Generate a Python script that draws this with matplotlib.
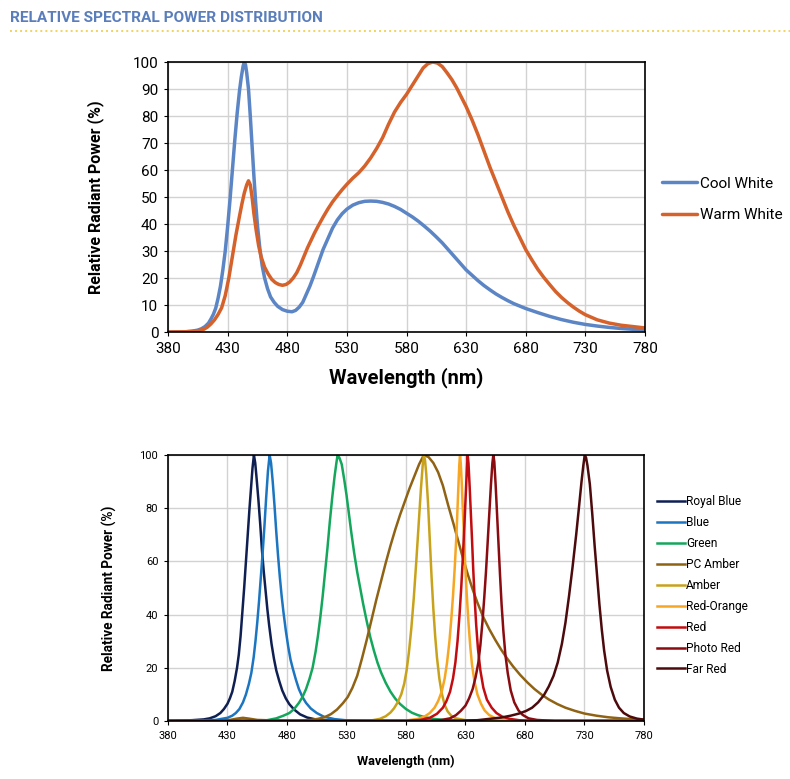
import matplotlib

matplotlib.use("Agg")
import matplotlib.pyplot as plt  # noqa: E402
from matplotlib.lines import Line2D  # noqa: E402

plt.rcParams["font.family"] = ["Roboto", "DejaVu Sans"]

# ---- white LEDs (top chart) ----
cool_nm = [380, 395, 400, 405, 408, 411, 414, 416, 418, 420, 422, 424, 426, 428, 430, 432, 434,
           436, 438, 440, 441.5, 443, 444, 445, 446, 447.5, 449, 450.5, 452, 453.5, 455, 457,
           459, 461, 463.5, 466, 469, 472, 476, 480, 484, 487, 490, 493, 496, 499, 502, 506,
           510, 514, 518, 522, 526, 530, 535, 540, 545, 550, 555, 560, 565, 570, 575, 580, 585,
           590, 595, 600, 605, 610, 615, 620, 625, 630, 635, 640, 645, 650, 655, 660, 665, 670,
           675, 680, 690, 700, 710, 720, 730, 740, 750, 760, 770, 780]
cool_val = [0, 0.1, 0.3, 0.7, 1.2, 2, 3.3, 4.8, 6.5, 8.8, 12.5, 17, 23, 30, 39, 49, 60,
            71, 81, 89.5, 94.5, 98.5, 100, 99, 96, 90, 80, 69, 58, 48, 39.5, 31,
            24.5, 20, 16, 13, 11, 9.5, 8.3, 7.7, 7.5, 8, 9.2, 11, 14, 17, 20.5, 25.5,
            30.5, 34.5, 38.5, 41.5, 43.8, 45.5, 47, 47.9, 48.4, 48.5, 48.4, 48, 47.4, 46.5, 45.4,
            44, 42.6, 41, 39.2, 37.3, 35.2, 33, 30.5, 28, 25.5, 23, 21, 19, 17.2, 15.6, 14.1,
            12.8, 11.6, 10.5, 9.6, 8.7, 7.2, 5.8, 4.6, 3.6, 2.8, 2.2, 1.7, 1.3, 1.0, 0.8]

warm_nm = [380, 395, 400, 405, 410, 413, 416, 419, 422, 425, 428, 431, 434, 437, 440, 442, 444,
           446, 447.5, 449, 450.5, 452, 454, 456, 458, 461, 464, 467, 470, 473, 476, 479, 482,
           485, 488, 491, 494, 497, 500, 503, 506, 510, 514, 518, 522, 526, 530, 535, 540, 545,
           550, 555, 560, 565, 570, 575, 580, 585, 590, 594, 598, 602, 606, 610, 614, 618, 622,
           626, 630, 635, 640, 645, 650, 655, 660, 665, 670, 675, 680, 685, 690, 695, 700, 705,
           710, 715, 720, 725, 730, 740, 750, 760, 770, 780]
warm_val = [0, 0.1, 0.2, 0.5, 1, 1.8, 3, 4.5, 6.5, 9, 13.5, 20, 28, 36, 43, 47.5, 51.5,
            54.5, 56, 54.5, 50, 44, 37.5, 32, 28, 24, 21.5, 19.5, 18.3, 17.6, 17.3, 17.6, 18.5,
            20, 22, 24.8, 28, 31.2, 34, 36.8, 39.3, 42.5, 45.5, 48.2, 50.5, 52.7, 54.7, 57, 59,
            61.5, 64.5, 68, 72, 77, 81.5, 85, 88, 91.5, 95, 97.8, 99.4, 100, 99.6, 98.3, 96,
            93.5, 90.5, 87, 83.5, 78.5, 73, 67, 61, 55.5, 50, 44.5, 39.5, 35, 30.5, 26.8, 23.3,
            20.3, 17.6, 15, 12.8, 10.9, 9.2, 7.7, 6.4, 4.5, 3.3, 2.5, 2.0, 1.5]

white_names = ["Cool White", "Warm White"]
white_colors = ["#5b85c5", "#d5612b"]

# ---- colour LEDs (bottom chart) ----
royal_nm = [380, 400, 410, 415, 420, 424, 427, 430, 432, 434, 436, 438, 439.5, 441, 442.5, 444,
            445.5, 447, 448.5, 450, 451, 452.2, 453.3, 454.5, 456, 457.5, 459, 460.5, 462, 463.5,
            465, 467, 469, 471, 473.5, 476, 479, 482, 486, 491, 497, 505, 520, 540, 780]
royal_val = [0, 0.3, 0.6, 1, 1.8, 3, 4.5, 6.5, 8.5, 11, 15, 20, 25, 32, 41, 50,
             60, 70, 80, 89, 95, 100, 97, 91, 83, 74, 64, 56, 49, 42,
             36, 29, 23.5, 19, 15, 11.5, 8.5, 6.3, 4.3, 2.5, 1.3, 0.5, 0.1, 0, 0]

blue_nm = [380, 400, 420, 430, 434, 437, 440, 443, 445.5, 448, 450, 452, 453.5, 455, 456.5, 458,
           459.5, 461, 462.5, 464, 465.4, 466.6, 468, 469.5, 471, 472.5, 474, 475.5, 477, 479,
           481, 483, 485, 487.5, 490, 493, 496, 500, 505, 511, 520, 530, 550, 780]
blue_val = [0, 0.1, 0.4, 1.2, 2, 3, 4.5, 7, 10, 14, 18, 24, 30, 37, 45, 54,
            63, 73, 84, 94, 100, 97, 90, 81, 71, 62, 54, 47, 41, 34,
            28, 23, 19.5, 15.5, 12, 9, 6.8, 4.7, 3, 1.6, 0.7, 0.25, 0, 0]

green_nm = [380, 460, 471, 477, 482, 486, 490, 493, 496, 499, 501.5, 504, 506, 508, 510, 512,
            514, 516, 518, 520, 521.5, 522.5, 524, 526, 528, 530, 532, 534, 536.5, 539, 541.5,
            544, 547, 550, 553, 556, 559, 563, 567, 571, 575, 580, 585, 590, 596, 603, 612,
            625, 640, 780]
green_val = [0, 0, 1, 2, 3, 4.5, 6.8, 9, 12, 16, 20, 26, 32, 39, 47, 56,
             65, 75, 84, 92, 97, 100, 99, 96.5, 91, 85, 78, 71, 63, 56, 50,
             44, 37.5, 31.5, 26.5, 22, 18.3, 14.3, 11, 8.4, 6.4, 4.5, 3.1, 2.2, 1.4, 0.8, 0.4,
             0.1, 0, 0]

pcamber_nm = [380, 420, 432, 438, 443, 448, 455, 470, 490, 500, 506, 512, 517, 522, 527, 531,
              535, 539, 543, 547, 551, 555, 559, 563, 567, 571, 575, 579, 583, 587, 591, 595,
              599, 603, 607, 611, 615.5, 620, 624, 628, 632, 636, 640, 645, 650, 655, 660, 665,
              670, 676, 682, 688, 694, 700, 707, 714, 722, 730, 740, 750, 760, 770, 780]
pcamber_val = [0, 0, 0.4, 0.9, 1.2, 0.9, 0.4, 0.2, 0.2, 0.4, 0.8, 1.5, 2.6, 4.3, 6.7, 9,
               12.5, 17, 23.5, 30.5, 38, 45.5, 52.5, 59.5, 66, 72, 77.5, 82.5, 87.5, 92, 96.5, 100,
               99.2, 97, 93.5, 88.5, 81, 74, 67.5, 61, 55, 49.5, 44.5, 39, 34.5, 30.5, 26.8, 23.5,
               20.5, 17.3, 14.5, 12, 9.9, 8.1, 6.4, 5, 3.8, 2.8, 2, 1.4, 1, 0.7, 0.5]

amber_nm = [380, 540, 552, 558, 563, 567, 570, 573, 576, 578.5, 580.5, 582.5, 584.5, 586.5, 588.5,
            590.5, 592.5, 594, 595, 596, 597, 598.5, 600, 601.5, 603, 604.5, 606, 608, 610,
            612.5, 615, 618, 622, 630, 645, 780]
amber_val = [0, 0, 0.3, 0.8, 1.8, 3.2, 4.8, 7, 10, 14, 19, 26, 35, 46, 59,
             73, 87, 96, 100, 98, 93, 82, 68, 54, 42, 32, 24, 16, 10.5,
             6, 3.6, 2, 1, 0.3, 0, 0]

redorange_nm = [380, 570, 582, 590, 596, 600, 604, 607, 610, 612.5, 614.5, 616.5, 618, 619.5, 621,
                622.5, 624, 624.8, 625.4, 626, 626.8, 627.6, 628.7, 629.7, 631, 632.5, 634, 635.5,
                637.5, 640, 643, 646, 650, 655, 663, 680, 780]
redorange_val = [0, 0, 0.3, 0.8, 1.8, 3, 5, 7.5, 11, 16, 22, 30, 38, 47, 58,
                 71, 88, 96.5, 100, 97, 90, 81, 70, 59, 48, 37, 28, 21,
                 15, 10, 6.5, 4, 2.2, 1.1, 0.4, 0, 0]

red_nm = [380, 580, 592, 600, 606, 611, 614, 617, 619.5, 621.5, 623.3, 625, 626.4, 627.7, 629,
          630.2, 631.2, 631.8, 632.5, 633.5, 634.5, 635.5, 636.5, 637.7, 639, 640.5, 642.5, 645,
          648, 652, 656, 661, 667, 675, 690, 780]
red_val = [0, 0, 0.4, 1.2, 2.7, 5, 7.5, 11, 16, 22, 30, 40, 50, 61, 73,
           85, 95, 100, 97, 88, 78, 68, 57, 46, 36, 27, 19, 12.5,
           8, 5, 3, 1.6, 0.8, 0.3, 0, 0]

photored_nm = [380, 600, 610, 617, 622, 626, 630, 633, 636, 638.5, 640.8, 642.5, 644.2, 645.7,
               647.2, 648.6, 650, 651.4, 652.6, 653.4, 654.2, 655.3, 656.5, 657.8, 659, 660.3,
               661.8, 663.5, 665.5, 668, 671, 674.5, 678, 683, 690, 705, 780]
photored_val = [0, 0, 0.4, 1, 2.2, 3.8, 5.8, 8.5, 12, 16.5, 22, 28.5, 37, 46,
                56, 67, 78, 89, 97, 100, 97.5, 89, 78, 66, 55, 44,
                34, 25, 18, 11.5, 7, 4, 2.3, 1, 0.4, 0, 0]

farred_nm = [380, 600, 620, 640, 650, 660, 668, 675, 681, 686, 691, 696, 700, 704, 707.5, 711,
             714, 717, 720, 723, 725.5, 727.5, 729, 730.2, 731.3, 732.5, 734.5, 736.5, 738.5,
             740.5, 742.5, 744.5, 746.5, 749, 752, 755.5, 759, 763, 768, 774, 780]
farred_val = [0, 0, 0.1, 0.3, 0.8, 1.3, 2, 2.8, 3.8, 5, 7, 9.8, 13, 17, 22, 29,
              37, 47, 58, 70, 81, 90, 96, 100, 99, 96, 89, 78, 66,
              55, 44, 34.5, 26.5, 19, 12.8, 8, 5, 3, 1.7, 0.9, 0.5]

color_names = ["Royal Blue", "Blue", "Green", "PC Amber", "Amber", "Red-Orange", "Red",
               "Photo Red", "Far Red"]
color_colors = ["#0f1f52", "#1b75c0", "#14a75c", "#8f6214", "#c9a21c", "#f6a623",
                "#c20c10", "#8a0b10", "#4c0a0c"]

x_ticks = [380, 430, 480, 530, 580, 630, 680, 730, 780]


def style_axes(ax, yticks, tick_size, tick_pad):
    ax.set_xlim(380, 780)
    ax.set_ylim(0, 100)
    ax.set_xticks(x_ticks)
    ax.set_yticks(yticks)
    ax.grid(True, color="#d2d2d2", linewidth=1.0)
    ax.set_axisbelow(True)
    for sp in ax.spines.values():
        sp.set_color("black")
        sp.set_linewidth(1.2)
    ax.tick_params(axis="both", direction="out", length=3, width=0.8,
                   labelsize=tick_size, pad=tick_pad, colors="black")


fig = plt.figure(figsize=(7.9, 7.79), dpi=100)

# header
fig.text(10 / 790, 1 - 18 / 779, "RELATIVE SPECTRAL POWER DISTRIBUTION", fontsize=11.1,
         fontweight="bold", color="#5a7dbb", ha="left", va="center")
fig.add_artist(Line2D([10 / 790, 1.0], [1 - 31 / 779, 1 - 31 / 779], transform=fig.transFigure,
                      color="#f2d35c", linewidth=1.4, linestyle=(0, (1, 1.6))))

# top chart
ax1 = fig.add_axes([168 / 790, 1 - 332 / 779, 477 / 790, 270 / 779])
for nm, val, name, col in zip([cool_nm, warm_nm], [cool_val, warm_val], white_names, white_colors):
    ax1.plot(nm, val, color=col, linewidth=2.5, label=name, solid_capstyle="round",
             solid_joinstyle="round")
style_axes(ax1, list(range(0, 101, 10)), 11, 4)
ax1.set_xlabel("Wavelength (nm)", fontsize=14.5, fontweight="bold")
ax1.set_ylabel("Relative Radiant Power (%)", fontsize=11.5, fontweight="bold")
ax1.xaxis.set_label_coords(0.5, -0.13)
ax1.yaxis.set_label_coords(-0.135, 0.5)
ax1.legend(loc="upper left", bbox_to_anchor=(662 / 790, 1 - 176.5 / 779),
           bbox_transform=fig.transFigure, frameon=False, fontsize=11, handlelength=2.3,
           handletextpad=0.2, labelspacing=1.15, borderpad=0, borderaxespad=0)

# bottom chart
ax2 = fig.add_axes([168 / 790, 1 - 721 / 779, 476 / 790, 266 / 779])
series_nm = [royal_nm, blue_nm, green_nm, pcamber_nm, amber_nm, redorange_nm, red_nm,
             photored_nm, farred_nm]
series_val = [royal_val, blue_val, green_val, pcamber_val, amber_val, redorange_val, red_val,
              photored_val, farred_val]
for nm, val, name, col in zip(series_nm, series_val, color_names, color_colors):
    ax2.plot(nm, val, color=col, linewidth=1.8, label=name, solid_joinstyle="round")
style_axes(ax2, list(range(0, 101, 20)), 8, 4)
ax2.set_xlabel("Wavelength (nm)", fontsize=9.2, fontweight="bold")
ax2.set_ylabel("Relative Radiant Power (%)", fontsize=9.8, fontweight="bold")
ax2.xaxis.set_label_coords(0.5, -0.128)
ax2.yaxis.set_label_coords(-0.108, 0.5)
ax2.legend(loc="upper left", bbox_to_anchor=(657 / 790, 1 - 495.5 / 779),
           bbox_transform=fig.transFigure, frameon=False, fontsize=8.6, handlelength=2.35,
           handletextpad=0.1, labelspacing=0.66, borderpad=0, borderaxespad=0)

fig.savefig("out.png", dpi=100)
plt.close(fig)
